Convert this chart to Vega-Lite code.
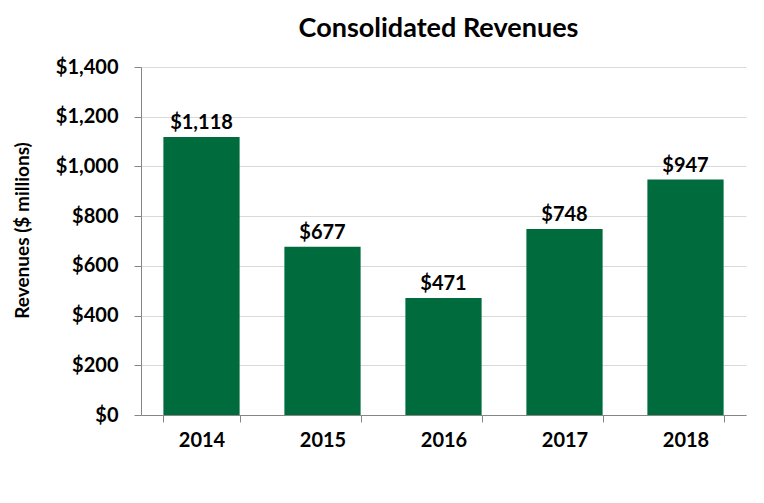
{
  "$schema": "https://vega.github.io/schema/vega-lite/v6.json",
  "width": 605,
  "height": 348,
  "autosize": "none",
  "padding": {"left": 141, "top": 67, "right": 18, "bottom": 88},
  "background": "white",
  "config": {
    "view": {"stroke": null},
    "font": "Lato"
  },
  "title": {
    "text": "Consolidated Revenues",
    "fontSize": 27,
    "fontWeight": "bold",
    "font": "Lato",
    "color": "#000000",
    "anchor": "middle",
    "offset": 14,
    "dx": -5
  },
  "data": {
    "values": [
      {"year": "2014", "revenue": 1118},
      {"year": "2015", "revenue": 677},
      {"year": "2016", "revenue": 471},
      {"year": "2017", "revenue": 748},
      {"year": "2018", "revenue": 947}
    ]
  },
  "encoding": {
    "x": {
      "field": "year",
      "type": "ordinal",
      "scale": {"paddingInner": 0.37, "paddingOuter": 0.185},
      "axis": {
        "title": null,
        "labelAngle": 0,
        "labelFontSize": 20,
        "labelFontWeight": "bold",
        "labelColor": "#000000",
        "labelPadding": 8,
        "domainColor": "#868686",
        "tickColor": "#868686",
        "tickSize": 7,
        "tickBand": "extent",
        "grid": false
      }
    },
    "y": {
      "field": "revenue",
      "type": "quantitative",
      "scale": {"domain": [0, 1400]},
      "axis": {
        "values": [0, 200, 400, 600, 800, 1000, 1200, 1400],
        "format": "$,.0f",
        "title": "Revenues ($ millions)",
        "titleFontSize": 19,
        "titleFontWeight": "bold",
        "titleColor": "#000000",
        "titleX": -109,
        "titleY": 163,
        "titleAlign": "center",
        "labelFontSize": 20,
        "labelFontWeight": "bold",
        "labelColor": "#000000",
        "labelPadding": 16,
        "domainColor": "#868686",
        "tickColor": "#868686",
        "tickSize": 7,
        "gridColor": "#d9d9d9",
        "gridWidth": 1
      }
    }
  },
  "layer": [
    {"mark": {"type": "bar", "color": "#006B3C"}},
    {
      "mark": {"type": "text", "dy": -14, "fontSize": 20, "fontWeight": "bold", "color": "#000000"},
      "encoding": {"text": {"field": "revenue", "type": "quantitative", "format": "$,.0f"}}
    }
  ]
}
